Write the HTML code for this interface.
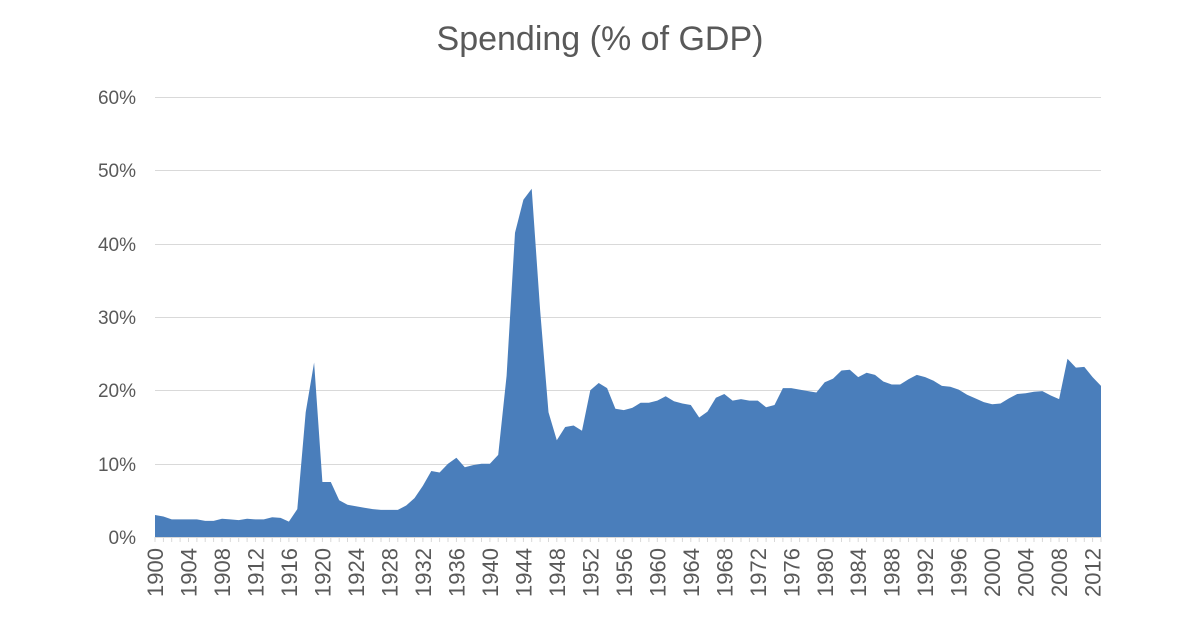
<!DOCTYPE html>
<html><head><meta charset="utf-8"><style>
body{margin:0;background:#fff;}
svg{display:block;font-family:"Liberation Sans",sans-serif;}
</style></head><body>
<svg id="s" width="1200" height="627" viewBox="0 0 1200 627">
<text x="600" y="50" text-anchor="middle" font-size="34" fill="#595959">Spending (% of GDP)</text>
<g stroke="#d9d9d9" stroke-width="1">
<line x1="155" x2="1101" y1="97.5" y2="97.5"/>
<line x1="155" x2="1101" y1="170.5" y2="170.5"/>
<line x1="155" x2="1101" y1="244.5" y2="244.5"/>
<line x1="155" x2="1101" y1="317.5" y2="317.5"/>
<line x1="155" x2="1101" y1="390.5" y2="390.5"/>
<line x1="155" x2="1101" y1="464.5" y2="464.5"/>
<line x1="155" x2="1101" y1="537.5" y2="537.5"/>
</g>
<g font-size="19" fill="#595959" text-anchor="end">
<text x="136" y="104">60%</text>
<text x="136" y="177">50%</text>
<text x="136" y="251">40%</text>
<text x="136" y="324">30%</text>
<text x="136" y="397">20%</text>
<text x="136" y="471">10%</text>
<text x="136" y="544">0%</text>
</g>
<polygon id="area" fill="#4a7ebb" points=""/>
<g id="ticks" stroke="#d9d9d9"></g>
<g font-size="22" fill="#595959" text-anchor="end">
<text transform="translate(163,548) rotate(-90)">1900</text>
<text transform="translate(196.5,548) rotate(-90)">1904</text>
<text transform="translate(230,548) rotate(-90)">1908</text>
<text transform="translate(263.5,548) rotate(-90)">1912</text>
<text transform="translate(297,548) rotate(-90)">1916</text>
<text transform="translate(330.4,548) rotate(-90)">1920</text>
<text transform="translate(363.9,548) rotate(-90)">1924</text>
<text transform="translate(397.4,548) rotate(-90)">1928</text>
<text transform="translate(430.9,548) rotate(-90)">1932</text>
<text transform="translate(464.4,548) rotate(-90)">1936</text>
<text transform="translate(497.9,548) rotate(-90)">1940</text>
<text transform="translate(531.4,548) rotate(-90)">1944</text>
<text transform="translate(564.9,548) rotate(-90)">1948</text>
<text transform="translate(598.3,548) rotate(-90)">1952</text>
<text transform="translate(631.8,548) rotate(-90)">1956</text>
<text transform="translate(665.3,548) rotate(-90)">1960</text>
<text transform="translate(698.8,548) rotate(-90)">1964</text>
<text transform="translate(732.3,548) rotate(-90)">1968</text>
<text transform="translate(765.8,548) rotate(-90)">1972</text>
<text transform="translate(799.3,548) rotate(-90)">1976</text>
<text transform="translate(832.8,548) rotate(-90)">1980</text>
<text transform="translate(866.2,548) rotate(-90)">1984</text>
<text transform="translate(899.7,548) rotate(-90)">1988</text>
<text transform="translate(933.2,548) rotate(-90)">1992</text>
<text transform="translate(966.7,548) rotate(-90)">1996</text>
<text transform="translate(1000.2,548) rotate(-90)">2000</text>
<text transform="translate(1033.7,548) rotate(-90)">2004</text>
<text transform="translate(1067.2,548) rotate(-90)">2008</text>
<text transform="translate(1100.7,548) rotate(-90)">2012</text>
</g>
</svg>
<script>
var d=[3.0,2.8,2.4,2.4,2.4,2.4,2.2,2.2,2.5,2.4,2.3,2.5,2.4,2.4,2.7,2.6,2.1,3.8,17,23.8,7.5,7.5,5.0,4.4,4.2,4.0,3.8,3.7,3.7,3.7,4.3,5.3,7.0,9.0,8.8,10.0,10.8,9.5,9.8,10.0,10.0,11.2,22,41.5,46,47.5,31,17,13.2,15,15.2,14.5,20,21,20.3,17.5,17.3,17.6,18.3,18.3,18.6,19.2,18.5,18.2,18,16.3,17.1,19,19.5,18.6,18.8,18.6,18.6,17.7,18,20.3,20.3,20.1,19.9,19.7,21.1,21.6,22.7,22.8,21.8,22.4,22.1,21.2,20.8,20.8,21.5,22.1,21.8,21.3,20.6,20.5,20.1,19.4,18.9,18.4,18.1,18.2,18.9,19.5,19.6,19.8,19.9,19.3,18.8,24.3,23.1,23.2,21.8,20.6];
var st=946/113,p=["155,537"];
for(var i=0;i<d.length;i++){p.push((155+i*st).toFixed(1)+","+(537-d[i]*7.333).toFixed(1));}
p.push("1101,537");
document.getElementById("area").setAttribute("points",p.join(" "));
var t="";for(var i=0;i<d.length;i++){var x=(155+i*st).toFixed(1);t+='<line x1="'+x+'" x2="'+x+'" y1="537" y2="542"/>';}
document.getElementById("ticks").innerHTML=t;
</script>
</body></html>
